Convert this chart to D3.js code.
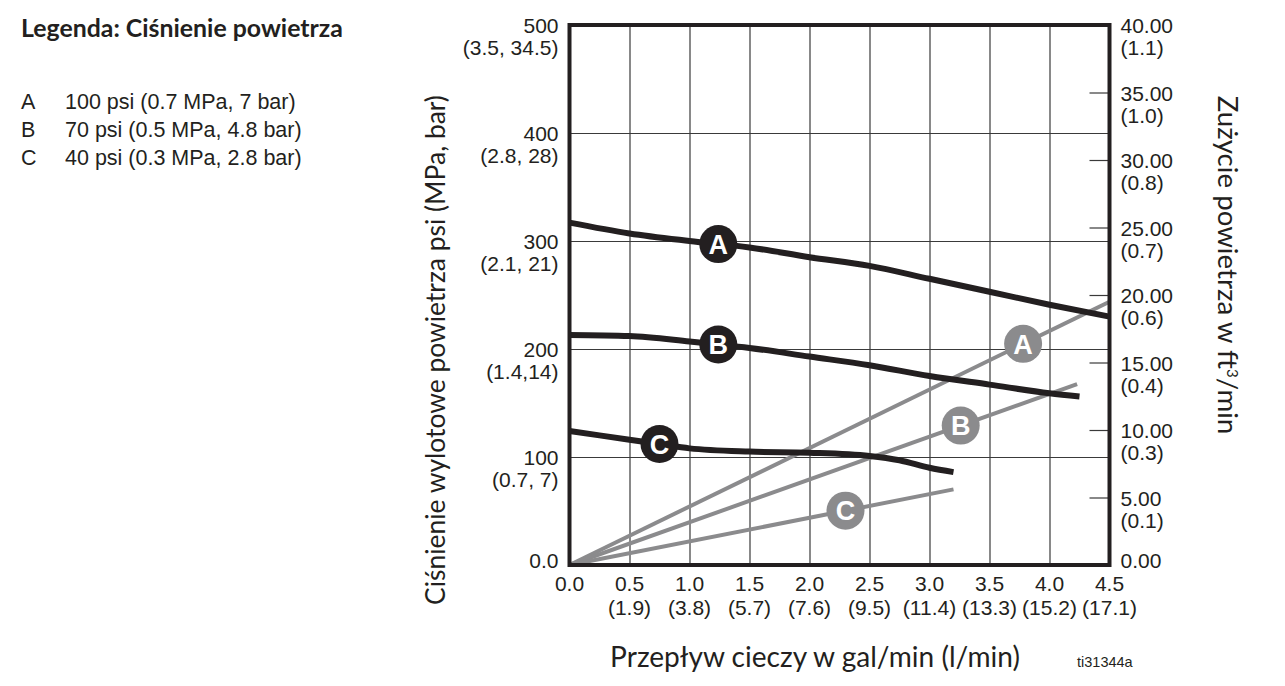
<!DOCTYPE html>
<html>
<head>
<meta charset="utf-8">
<script src="https://cdn.jsdelivr.net/npm/d3@7"></script>
<style>
  html, body { margin: 0; padding: 0; background: #fff; overflow: hidden; }
  svg { display: block; }
</style>
</head>
<body>
<div id="chart"></div>
<script>
// Flow axis (gal/min, with l/min below)
const flowTicks = [0, 0.5, 1.0, 1.5, 2.0, 2.5, 3.0, 3.5, 4.0, 4.5]
const flowLabels = ["0.0", "0.5", "1.0", "1.5", "2.0", "2.5", "3.0", "3.5", "4.0", "4.5"]
const flowSubLabels = ["", "(1.9)", "(3.8)", "(5.7)", "(7.6)", "(9.5)", "(11.4)", "(13.3)", "(15.2)", "(17.1)"]

// Outlet pressure axis (psi, with MPa, bar below)
const pressureTicks = [0, 100, 200, 300, 400, 500]
const pressureLabels = ["0.0", "100", "200", "300", "400", "500"]
const pressureSubLabels = ["", "(0.7, 7)", "(1.4,14)", "(2.1, 21)", "(2.8, 28)", "(3.5, 34.5)"]

// Air consumption axis (ft3/min, with m3/min below)
const airTicks = [0, 5, 10, 15, 20, 25, 30, 35, 40]
const airLabels = ["0.00", "5.00", "10.00", "15.00", "20.00", "25.00", "30.00", "35.00", "40.00"]
const airSubLabels = ["", "(0.1)", "(0.3)", "(0.4)", "(0.6)", "(0.7)", "(0.8)", "(1.0)", "(1.1)"]

// Outlet pressure curves [gal/min, psi]
const pressureA = [[0, 317], [0.5, 307], [1.0, 300], [1.5, 294], [2.0, 285], [2.5, 277], [3.0, 265], [3.5, 253], [4.0, 241], [4.5, 230]]
const pressureB = [[0, 213], [0.5, 212], [1.0, 207], [1.5, 201], [2.0, 193], [2.5, 185], [3.0, 175], [3.5, 167], [4.0, 159], [4.25, 156]]
const pressureC = [[0, 124], [0.25, 120], [0.5, 116], [0.75, 112], [1.0, 108], [1.5, 105], [2.0, 104], [2.5, 101], [2.75, 97], [3.0, 90], [3.2, 86]]

// Air consumption lines [gal/min, ft3/min]
const airA = [[0, 0], [4.5, 19.5]]
const airB = [[0, 0], [4.23, 13.4]]
const airC = [[0, 0], [3.2, 5.6]]

// Series letters, legend text and where the letter badges sit (gal/min)
const seriesKeys = ["A", "B", "C"]
const legendTexts = ["100 psi (0.7 MPa, 7 bar)", "70 psi (0.5 MPa, 4.8 bar)", "40 psi (0.3 MPa, 2.8 bar)"]
const pressureBadgeFlow = [1.24, 1.24, 0.75]
const airBadgeFlow = [3.78, 3.26, 2.3]

const width = 1285
const height = 686
const margin = { top: 25, left: 569.5 }
const innerWidth = 540
const innerHeight = 540

const ink = "#231f20"
const grey = "#8b8b8d"
const tickFont = "'Liberation Sans', Arial, sans-serif"
const titleFont = "Lato, 'Open Sans', sans-serif"

const svg = d3.select("#chart").append("svg")
  .attr("width", width)
  .attr("height", height)

const chart = svg.append("g")
  .attr("transform", `translate(${margin.left}, ${margin.top})`)

const x = d3.scaleLinear().domain([0, 4.5]).range([0, innerWidth])
const y = d3.scaleLinear().domain([0, 500]).range([innerHeight, 0])
const yAir = d3.scaleLinear().domain([0, 40]).range([innerHeight, 0])

// fit a text element to a target length
function fit(sel, target) {
  const fs = parseFloat(sel.style("font-size"))
  const w = sel.node().getComputedTextLength()
  sel.style("font-size", (fs * target / w) + "px")
}

// Grid
chart.append("g")
  .attr("class", "grid grid-vertical")
  .attr("transform", `translate(0, ${innerHeight})`)
  .call(d3.axisBottom(x).tickValues(flowTicks.slice(1, -1)).tickSize(-innerHeight).tickFormat(""))
  .selectAll("line")
  .style("stroke", "#3a3a3a")
  .style("stroke-width", 1.2)

chart.append("g")
  .attr("class", "grid grid-horizontal")
  .call(d3.axisLeft(y).tickValues(pressureTicks.slice(1, -1)).tickSize(-innerWidth).tickFormat(""))
  .selectAll("line")
  .style("stroke", "#3a3a3a")
  .style("stroke-width", 1.2)

// Right axis inner ticks
chart.append("g")
  .attr("class", "air-ticks")
  .attr("transform", `translate(${innerWidth}, 0)`)
  .call(d3.axisRight(yAir).tickValues(airTicks.slice(1, -1)).tickSize(-20).tickFormat(""))
  .selectAll("line")
  .style("stroke", "#3a3a3a")
  .style("stroke-width", 1.2)

chart.selectAll(".grid .domain, .air-ticks .domain").style("display", "none")
chart.selectAll(".grid text, .air-ticks text").remove()

// Air consumption lines (grey)
const airLine = d3.line()
  .x(d => x(d[0]))
  .y(d => yAir(d[1]))

const airSeries = [airA, airB, airC]
chart.selectAll(".air-line")
  .data(airSeries)
  .enter()
  .append("path")
  .attr("class", "air-line")
  .attr("fill", "none")
  .attr("stroke", grey)
  .attr("stroke-width", 4)
  .attr("d", airLine)

// Pressure curves (black)
const pressureLine = d3.line()
  .x(d => x(d[0]))
  .y(d => y(d[1]))
  .curve(d3.curveMonotoneX)

const pressureSeries = [pressureA, pressureB, pressureC]
chart.selectAll(".pressure-line")
  .data(pressureSeries)
  .enter()
  .append("path")
  .attr("class", "pressure-line")
  .attr("fill", "none")
  .attr("stroke", ink)
  .attr("stroke-width", 6)
  .attr("d", pressureLine)

// Plot border
chart.append("rect")
  .attr("width", innerWidth)
  .attr("height", innerHeight)
  .attr("fill", "none")
  .attr("stroke", ink)
  .attr("stroke-width", 4)

// value on a polyline at a given flow
function valueAt(data, fx) {
  const i = Math.max(1, Math.min(data.length - 1, d3.bisector(d => d[0]).left(data, fx)))
  const a = data[i - 1], b = data[i]
  return a[1] + (b[1] - a[1]) * (fx - a[0]) / (b[0] - a[0])
}

function badge(cx, cy, letter, fill) {
  const g = chart.append("g").attr("transform", `translate(${cx}, ${cy})`)
  g.append("circle")
    .attr("r", 19)
    .attr("fill", fill)
  g.append("text")
    .attr("text-anchor", "middle")
    .attr("dy", "0.36em")
    .style("font-family", tickFont)
    .style("font-weight", "bold")
    .style("font-size", "27px")
    .style("fill", "#fff")
    .text(letter)
}

seriesKeys.forEach((k, i) => {
  const fa = airBadgeFlow[i]
  badge(x(fa), yAir(valueAt(airSeries[i], fa)), k, grey)
})
seriesKeys.forEach((k, i) => {
  const fp = pressureBadgeFlow[i]
  badge(x(fp), y(valueAt(pressureSeries[i], fp)), k, ink)
})

// Tick labels
function tickLabel(sel, main, sub, anchor, dy1, dy2) {
  sel.append("text")
    .attr("text-anchor", anchor)
    .attr("y", dy1)
    .style("font-family", tickFont)
    .style("font-size", "21px")
    .style("fill", ink)
    .text(main)
  if (sub) {
    sel.append("text")
      .attr("text-anchor", anchor)
      .attr("y", dy2)
      .style("font-family", tickFont)
      .style("font-size", "21px")
      .style("fill", ink)
      .text(sub)
  }
}

pressureTicks.forEach((t, i) => {
  const g = chart.append("g").attr("transform", `translate(-11, ${y(t)})`)
  if (t === 0) tickLabel(g, pressureLabels[i], "", "end", 3, 0)
  else tickLabel(g, pressureLabels[i], pressureSubLabels[i], "end", 8, 30)
})

airTicks.forEach((t, i) => {
  const g = chart.append("g").attr("transform", `translate(${innerWidth + 11}, ${yAir(t)})`)
  if (t === 0) tickLabel(g, airLabels[i], "", "start", 3, 0)
  else tickLabel(g, airLabels[i], airSubLabels[i], "start", 8, 30)
})

flowTicks.forEach((t, i) => {
  const g = chart.append("g").attr("transform", `translate(${x(t)}, ${innerHeight})`)
  tickLabel(g, flowLabels[i], flowSubLabels[i], "middle", 26, 50)
})

// Axis titles
const leftTitle = svg.append("text")
  .attr("transform", "translate(445, 350) rotate(-90)")
  .attr("text-anchor", "middle")
  .style("font-family", titleFont)
  .style("font-size", "24px")
  .style("fill", ink)
  .text("Ciśnienie wylotowe powietrza psi (MPa, bar)")
fit(leftTitle, 510)

const rightTitle = svg.append("text")
  .attr("transform", "translate(1218, 265) rotate(90)")
  .attr("text-anchor", "middle")
  .style("font-family", titleFont)
  .style("font-size", "24px")
  .style("fill", ink)
rightTitle.append("tspan").text("Zużycie powietrza w ft")
rightTitle.append("tspan").attr("dy", -9).style("font-size", "15px").text("3")
rightTitle.append("tspan").attr("dy", 9).text("/min")
fit(rightTitle, 340)

const bottomTitle = svg.append("text")
  .attr("x", 815)
  .attr("y", 667)
  .attr("text-anchor", "middle")
  .style("font-family", titleFont)
  .style("font-size", "25px")
  .style("fill", ink)
  .text("Przepływ cieczy w gal/min (l/min)")
fit(bottomTitle, 410)

svg.append("text")
  .attr("x", 1077)
  .attr("y", 667)
  .style("font-family", tickFont)
  .style("font-size", "14.5px")
  .style("fill", ink)
  .text("ti31344a")

// Legend
const legendTitle = svg.append("text")
  .attr("x", 21)
  .attr("y", 37)
  .style("font-family", titleFont)
  .style("font-weight", "bold")
  .style("font-size", "21px")
  .style("fill", ink)
  .text("Legenda: Ciśnienie powietrza")
fit(legendTitle, 322)

seriesKeys.forEach((k, i) => {
  const row = svg.append("g").attr("transform", `translate(21, ${109 + i * 28})`)
  row.append("text")
    .style("font-family", tickFont)
    .style("font-size", "21.5px")
    .style("fill", ink)
    .text(k)
  row.append("text")
    .attr("x", 44)
    .style("font-family", tickFont)
    .style("font-size", "21.5px")
    .style("fill", ink)
    .text(legendTexts[i])
})
</script>
</body>
</html>
